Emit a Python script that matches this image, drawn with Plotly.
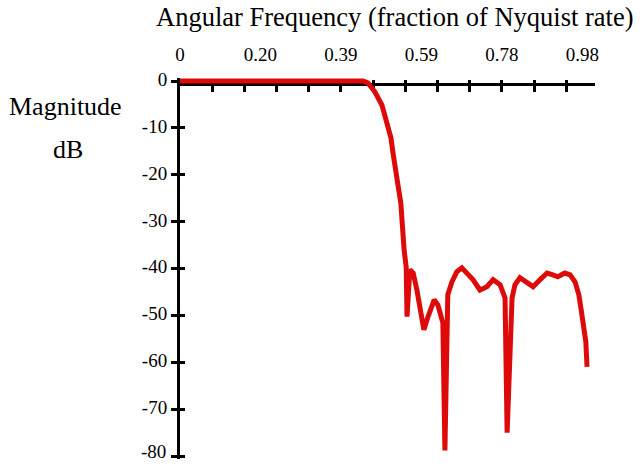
import plotly.graph_objects as go

# Frequency (fraction of Nyquist rate) and magnitude (dB)
freq = [0.0, 0.444, 0.456, 0.473, 0.490, 0.502, 0.512, 0.517, 0.524, 0.529,
        0.536, 0.539, 0.544, 0.549, 0.551, 0.558, 0.566, 0.575, 0.583, 0.592,
        0.602, 0.617, 0.626, 0.638, 0.643, 0.650, 0.660, 0.672, 0.684, 0.697,
        0.711, 0.728, 0.745, 0.760, 0.777, 0.789, 0.794, 0.806, 0.813, 0.825,
        0.842, 0.857, 0.874, 0.891, 0.905, 0.917, 0.934, 0.947, 0.959, 0.968,
        0.973, 0.978, 0.985, 0.988]
mag_db = [0.0, 0.0, -0.4, -2.3, -5.1, -8.7, -12.1, -15.3, -18.5, -22.1,
          -26.0, -31.7, -36.0, -39.6, -50.2, -40.2, -40.9, -44.5, -48.7, -53.0,
          -50.2, -46.6, -47.7, -51.5, -78.7, -45.5, -42.8, -40.6, -39.8, -40.9,
          -42.3, -44.5, -43.8, -42.3, -43.4, -46.2, -74.9, -46.2, -43.4, -41.9,
          -43.0, -43.8, -42.3, -40.9, -41.3, -41.7, -40.9, -41.3, -42.8, -45.5,
          -48.3, -51.9, -55.5, -60.9]

x_label_vals = [0.0, 0.1953, 0.3906, 0.5859, 0.78125, 0.9766]
x_label_text = ["0", "0.20", "0.39", "0.59", "0.78", "0.98"]
x_tick_step = 0.078125
y_tick_vals = [0, -10, -20, -30, -40, -50, -60, -70, -80]
y_tick_text = ["0", "-10", "-20", "-30", "-40", "-50", "-60", "-70", "-80"]

RED = "rgb(222,10,10)"
FONT = "Liberation Serif"
TICK_SIZE = 19

W, H = 642, 466
ML, MR, MT, MB = 180, 47, 78, 7
plot_w = W - ML - MR
plot_h = H - MT - MB
X_RANGE = [0, 1.0073]
Y_RANGE = [-80.5, 0.64]


def px(xp):
    return (xp - ML) / plot_w


def py(yp):
    return (H - MB - yp) / plot_h


fig = go.Figure()
fig.add_trace(go.Scatter(x=freq, y=mag_db, mode="lines",
                         line=dict(color=RED, width=5), showlegend=False,
                         hoverinfo="skip"))
# empty traces so the helper axes get drawn
for xa, ya in (("x2", "y"), ("x3", "y"), ("x", "y2")):
    fig.add_trace(go.Scatter(x=[], y=[], xaxis=xa, yaxis=ya, mode="lines",
                             showlegend=False, hoverinfo="skip"))

axis_common = dict(showgrid=False, zeroline=False, color="black")
xpos = 1 - (84 - 0.5 - MT) / plot_h

# the bottom label sits at the page edge; it is drawn as an annotation
# (slightly raised, as in the reference) so it is not cut off
axis_y_text = y_tick_text[:-1] + [""]

fig.update_layout(
    width=W, height=H,
    margin=dict(l=ML, r=MR, t=MT, b=MB, pad=0),
    paper_bgcolor="white", plot_bgcolor="white",
    font=dict(family=FONT, color="black", size=18),
    showlegend=False,
    xaxis=dict(range=X_RANGE, anchor="free", position=xpos, side="top",
               showline=True, linewidth=3, linecolor="black",
               ticks="inside", ticklen=6, tickwidth=3, tickcolor="black",
               tick0=0, dtick=x_tick_step, showticklabels=False,
               layer="below traces", **axis_common),
    xaxis3=dict(range=X_RANGE, overlaying="x", anchor="free", position=xpos,
                side="top", showline=False,
                ticks="outside", ticklen=4, tickwidth=3, tickcolor="black",
                tick0=0, dtick=x_tick_step, showticklabels=False,
                layer="below traces", **axis_common),
    xaxis2=dict(range=X_RANGE, overlaying="x", anchor="free", position=1,
                side="top", showline=False, ticks="outside", ticklen=9,
                tickcolor="rgba(0,0,0,0)",
                tickmode="array", tickvals=x_label_vals, ticktext=x_label_text,
                tickfont=dict(family=FONT, size=TICK_SIZE, color="black"),
                **axis_common),
    yaxis=dict(range=Y_RANGE, side="left", anchor="x",
               showline=True, linewidth=3, linecolor="black",
               ticks="outside", ticklen=6, tickwidth=3, tickcolor="black",
               tickmode="array", tickvals=y_tick_vals, ticktext=axis_y_text,
               tickfont=dict(family=FONT, size=TICK_SIZE, color="black"),
               ticklabelshift=-2,
               layer="below traces", **axis_common),
    yaxis2=dict(range=Y_RANGE, overlaying="y", side="left", anchor="x",
                showline=False, ticks="inside", ticklen=5, tickwidth=3,
                tickcolor="black", tickmode="array", tickvals=y_tick_vals,
                showticklabels=False, layer="below traces", **axis_common),
    annotations=[
        dict(text="Angular Frequency (fraction of Nyquist rate)",
             xref="paper", yref="paper", x=px(395), y=py(17),
             xanchor="center", yanchor="middle", showarrow=False,
             font=dict(family=FONT, size=26.5, color="black")),
        dict(text="Magnitude", xref="paper", yref="paper", x=px(65),
             y=py(106), xanchor="center", yanchor="middle", showarrow=False,
             font=dict(family=FONT, size=26, color="black")),
        dict(text="dB", xref="paper", yref="paper", x=px(68), y=py(149),
             xanchor="center", yanchor="middle", showarrow=False,
             font=dict(family=FONT, size=26, color="black")),
        dict(text=y_tick_text[-1], xref="paper", yref="y",
             x=px(167), y=y_tick_vals[-1], yshift=5,
             xanchor="right", yanchor="middle", showarrow=False,
             borderpad=0,
             font=dict(family=FONT, size=TICK_SIZE, color="black")),
    ],
)

fig.write_html("out.html")
